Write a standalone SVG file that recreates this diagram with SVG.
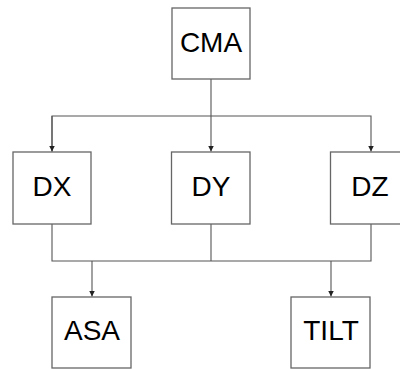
<svg xmlns="http://www.w3.org/2000/svg" width="400" height="369" viewBox="0 0 400 369">
<style>
.box{fill:#fff;stroke:#666;stroke-width:1.3}
.lbl{font-family:"Liberation Sans",Arial,sans-serif;font-size:28px;fill:#000;text-anchor:middle}
.ln{fill:none;stroke:#555;stroke-width:1.1}
</style>
<defs>
<marker id="ah" markerWidth="8" markerHeight="8" refX="6" refY="3.5" orient="auto" markerUnits="userSpaceOnUse">
<path d="M0,0.5 L6,3.5 L0,6.5 Z" fill="#222"/>
</marker>
</defs>
<rect width="400" height="369" fill="#fff"/>
<g id="connectors">
<path class="ln" d="M211,79 V151.5" marker-end="url(#ah)"/>
<path class="ln" d="M52,151.5 V116 H371 V151.5" marker-end="url(#ah)"/>
<path class="ln" d="M52,116 V151.5" marker-end="url(#ah)"/>
<path class="ln" d="M52,224 V261 H371 V224"/>
<path class="ln" d="M211,224 V261"/>
<path class="ln" d="M92,261 V296.5" marker-end="url(#ah)"/>
<path class="ln" d="M331,261 V296.5" marker-end="url(#ah)"/>
</g>
<g id="CMA"><rect class="box" x="172" y="8" width="78" height="71"/><text class="lbl" x="211" y="52">CMA</text></g>
<g id="DX"><rect class="box" x="13" y="152" width="78" height="72"/><text class="lbl" x="52" y="196">DX</text></g>
<g id="DY"><rect class="box" x="171.5" y="152" width="78.5" height="72"/><text class="lbl" x="211" y="196">DY</text></g>
<g id="DZ"><rect class="box" x="330.5" y="152" width="80" height="72"/><text class="lbl" x="370" y="196">DZ</text></g>
<g id="ASA"><rect class="box" x="52" y="297" width="79" height="71"/><text class="lbl" x="92" y="340">ASA</text></g>
<g id="TILT"><rect class="box" x="291" y="297" width="79" height="71"/><text class="lbl" x="331" y="340">TILT</text></g>
</svg>
